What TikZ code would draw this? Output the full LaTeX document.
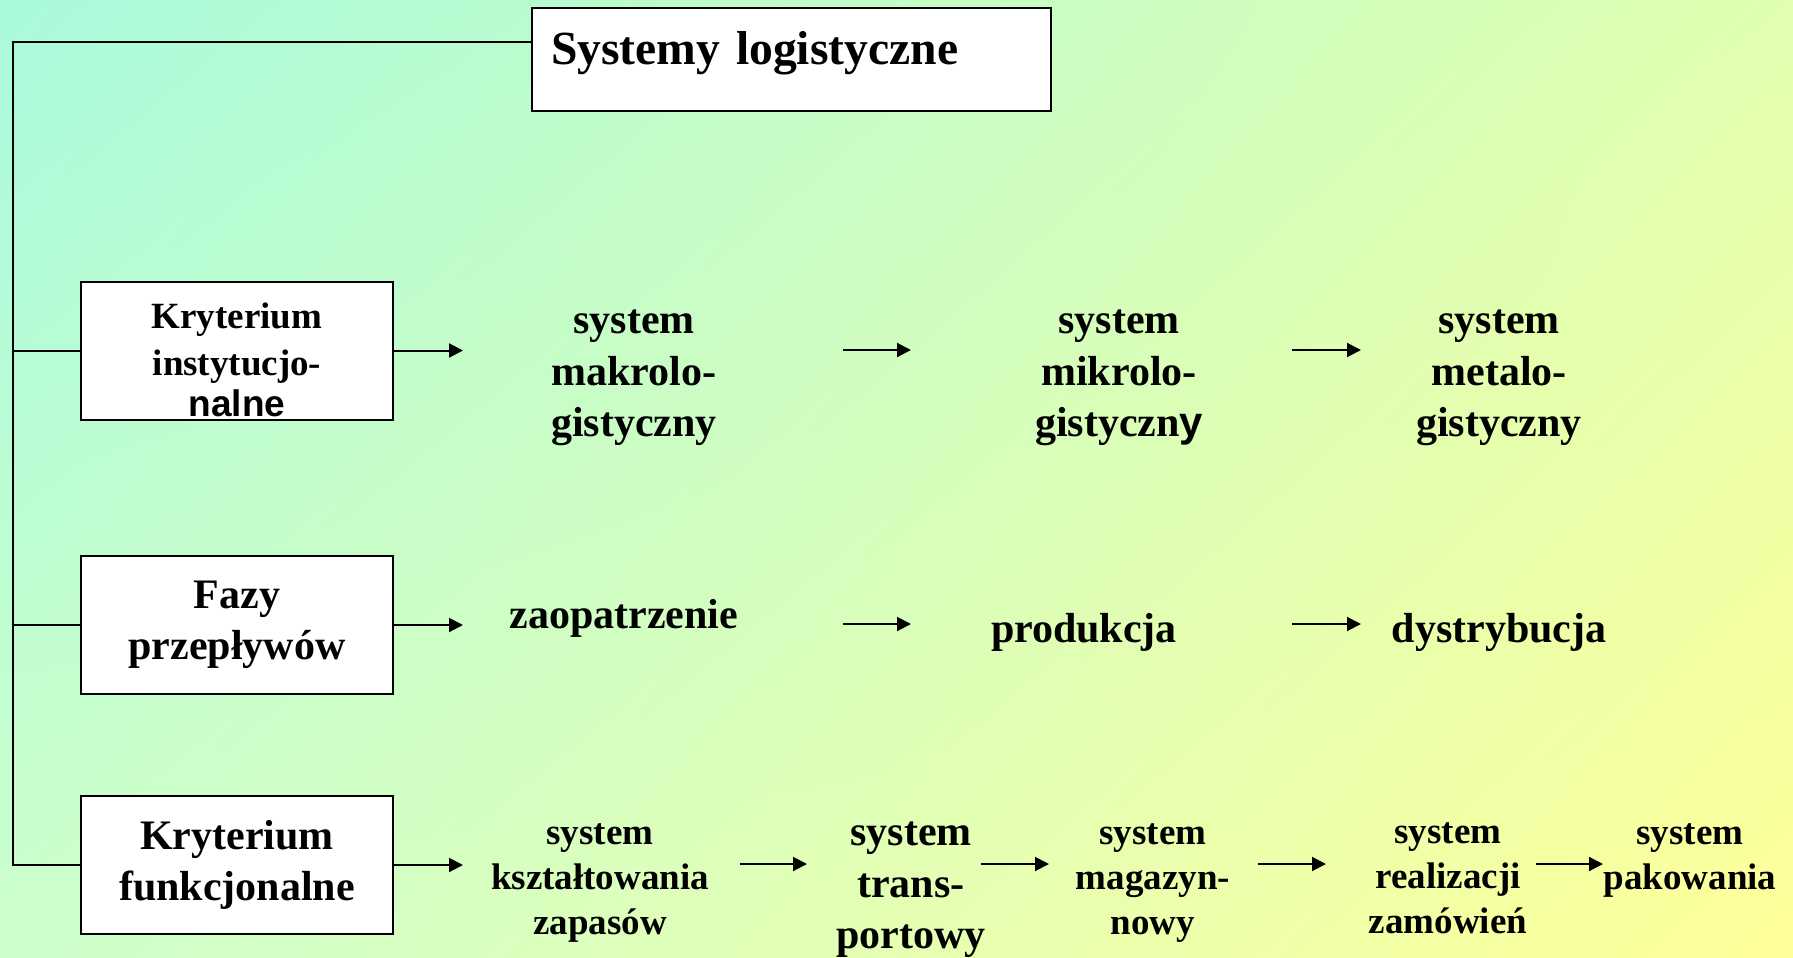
\documentclass[tikz,border=0pt]{standalone}
\usepackage{fontspec}
\setmainfont{Liberation Serif}
\newfontfamily\arialfont{Liberation Sans}
\usepackage{tikz}
\usetikzlibrary{arrows.meta,positioning,shadings}

\definecolor{bgul}{RGB}{168,250,220}
\definecolor{bgur}{RGB}{224,255,176}
\definecolor{bgll}{RGB}{204,255,204}
\definecolor{bglr}{RGB}{255,255,153}

\tikzset{
  bigtxt/.style={font=\fontsize{21}{25.75}\selectfont\bfseries},
  smalltxt/.style={font=\fontsize{18.5}{22.5}\selectfont\bfseries},
  krit/.style={draw, fill=white, line width=1pt, align=center, inner sep=0pt,
    minimum width=156pt, minimum height=69pt},
  item/.style={align=center, inner sep=0pt},
  arr/.style={line width=1pt, -{Triangle[length=7pt,width=7pt]}}
}

\begin{document}
\begin{tikzpicture}[x=0.5pt, y=-0.5pt]
\shade[upper left=bgul, upper right=bgur, lower left=bgll, lower right=bglr]
  (0,0) rectangle (1793,958);
\useasboundingbox (0,0) rectangle (1793,958);

% title
\node (title) [draw, fill=white, line width=1pt, anchor=north west, align=left,
  inner xsep=9.5pt, inner ysep=0pt, text width=240.5pt, text height=28pt,
  text depth=23.5pt, font=\fontsize{23.8}{28}\selectfont\bfseries]
  at (531,7) {Systemy logistyczne};

% criteria
\node (k1) [krit, font=\fontsize{18.5}{23.5}\selectfont\bfseries] at (237,350.5)
  {\rule{0pt}{22.5pt}Kryterium\\instytucjo-\\[-3pt]{\arialfont nalne}};
\node (k2) [krit, bigtxt] at (237,625) {Fazy\\przepływów};
\node (k3) [krit, bigtxt] at (237,865) {Kryterium\\funkcjonalne};

\coordinate (top) at (13,42);
\draw[line width=1pt] (title.west |- top) -- (top) -- (top |- k3.west) -- (k3.west);
\draw[line width=1pt] (top |- k1.west) -- (k1.west);
\draw[line width=1pt] (top |- k2.west) -- (k2.west);

% row 1
\node (makro) [item, bigtxt] at (634,378) {system\\makrolo-\\gistyczny};
\node (mikro) [item, bigtxt] at (1119,378) {system\\mikrolo-\\gistyczn{\arialfont y}};
\node (meta) [item, bigtxt] at (1499,378) {system\\metalo-\\gistyczny};

% row 2
\node (zaop) [item, bigtxt] at (624,618.5) {zaopatrzenie};
\node (prod) [item, bigtxt] at (1084,632.5) {produkcja};
\node (dystr) [item, bigtxt] at (1499,632.5) {dystrybucja};

% row 3
\node (zapasy) [item, smalltxt] at (600,883) {system\\kształtowania\\zapasów};
\node (trans) [item, bigtxt] at (911,890) {system\\trans-\\portowy};
\node (magazyn) [item, smalltxt] at (1153,883) {system\\magazyn-\\nowy};
\node (realiz) [item, smalltxt] at (1448,878.5) {system\\realizacji\\zamówień};
\node (pakow) [item, smalltxt] at (1690,860.5) {system\\pakowania};

% arrows
\foreach \i in {1,2,3}
  \draw[arr] (k\i.east) -- ++(69,0);
\foreach \n/\xa/\xb/\y in {a/843/911/350, b/1292/1361/350,
    c/843/911/624, d/1292/1361/624,
    e/740/807/864, f/981/1049/864, g/1258/1326/864, h/1536/1603/864}{
  \coordinate (\n-s) at (\xa,\y);
  \coordinate (\n-e) at (\xb,\y);
  \draw[arr] (\n-s) -- (\n-e);
}
\end{tikzpicture}
\end{document}
